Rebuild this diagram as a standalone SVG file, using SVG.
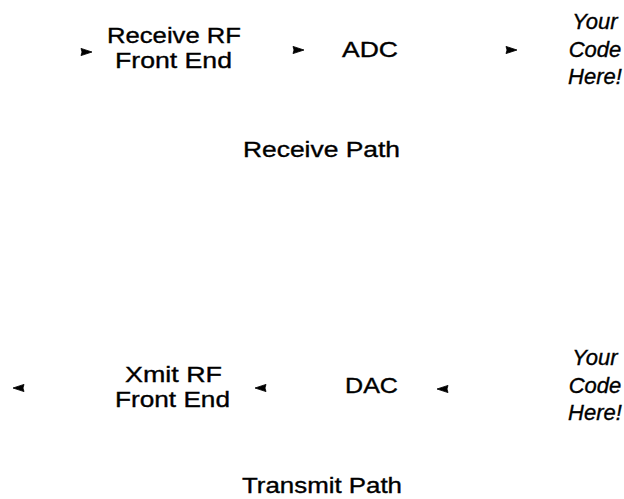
<svg xmlns="http://www.w3.org/2000/svg" xmlns:xlink="http://www.w3.org/1999/xlink" width="624" height="499" viewBox="0 0 624 499">
<style>
text{font-family:"Liberation Sans",Arial,sans-serif;font-size:22px;fill:#000;stroke:#000;stroke-width:0.35;text-anchor:middle}
.it{font-style:italic}
.ah{fill:#000;stroke:#000;stroke-width:0.8;stroke-linejoin:round}
</style>
<defs>
<path id="ahR" class="ah" d="M0,0 L-11,-3.6 L-10,0 L-11,3.6 Z"/>
<path id="ahL" class="ah" d="M0,0 L11,-3.6 L10,0 L11,3.6 Z"/>
</defs>
<rect width="624" height="499" fill="#fff"/>
<g id="connectors">
<use xlink:href="#ahR" x="92" y="52"/>
<use xlink:href="#ahR" x="304" y="50"/>
<use xlink:href="#ahR" x="517" y="50"/>
<use xlink:href="#ahL" x="13" y="388"/>
<use xlink:href="#ahL" x="255" y="388"/>
<use xlink:href="#ahL" x="437" y="389"/>
</g>
<g id="rx-rf">
<text x="174" y="43" textLength="134" lengthAdjust="spacingAndGlyphs">Receive RF</text>
<text x="173.5" y="68" textLength="117" lengthAdjust="spacingAndGlyphs">Front End</text>
</g>
<g id="adc">
<text x="370" y="57" textLength="56" lengthAdjust="spacingAndGlyphs">ADC</text>
</g>
<g id="rx-code">
<text class="it" x="595" y="29">Your</text>
<text class="it" x="595" y="57">Code</text>
<text class="it" x="595" y="84">Here!</text>
</g>
<g id="rx-label">
<text x="321.5" y="157" textLength="157" lengthAdjust="spacingAndGlyphs">Receive Path</text>
</g>
<g id="tx-rf">
<text x="173.5" y="382" textLength="97" lengthAdjust="spacingAndGlyphs">Xmit RF</text>
<text x="172.5" y="407" textLength="115" lengthAdjust="spacingAndGlyphs">Front End</text>
</g>
<g id="dac">
<text x="371.5" y="393" textLength="53" lengthAdjust="spacingAndGlyphs">DAC</text>
</g>
<g id="tx-code">
<text class="it" x="595" y="365">Your</text>
<text class="it" x="595" y="393">Code</text>
<text class="it" x="595" y="420">Here!</text>
</g>
<g id="tx-label">
<text x="322" y="493" textLength="160" lengthAdjust="spacingAndGlyphs">Transmit Path</text>
</g>
</svg>
